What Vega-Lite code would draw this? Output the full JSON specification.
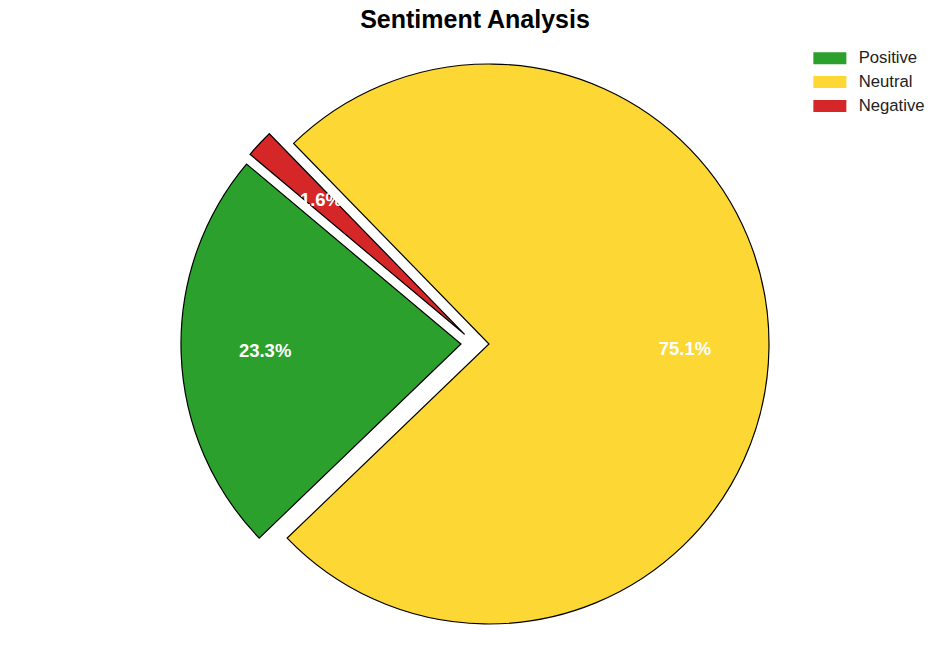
{
  "$schema": "https://vega.github.io/schema/vega-lite/v6.json",
  "width": 922,
  "height": 616,
  "autosize": {"type": "none"},
  "padding": {"left": 28, "top": 36, "right": 0, "bottom": 0},
  "background": "white",
  "title": {
    "text": "Sentiment Analysis",
    "fontSize": 25,
    "font": "Liberation Sans",
    "fontWeight": "bold",
    "color": "black",
    "anchor": "middle",
    "dx": -14,
    "offset": 3
  },
  "config": {
    "view": {"stroke": null},
    "legend": {
      "orient": "none",
      "legendX": 793.5,
      "legendY": 13.8,
      "symbolType": "M-2.75,-1H2.75V1H-2.75Z",
      "symbolSize": 144,
      "symbolStrokeWidth": 0,
      "symbolOpacity": 1,
      "labelFont": "Liberation Sans",
      "labelFontSize": 16.7,
      "labelColor": "#222",
      "labelOffset": 20.5,
      "rowPadding": 5.9
    }
  },
  "data": {
    "values": [
      {"category": "Positive", "value": 23.3},
      {"category": "Neutral", "value": 75.1},
      {"category": "Negative", "value": 1.6}
    ]
  },
  "transform": [
    {"stack": "value", "groupby": [], "as": ["v0", "v1"], "sort": [{"field": "category", "order": "descending"}]},
    {"calculate": "(datum.v0 + datum.v1) / 2", "as": "vmid"},
    {"calculate": "format(datum.value, '.1f') + '%'", "as": "label"}
  ],
  "layer": [
    {
      "transform": [{"filter": "datum.category === 'Positive'"}],
      "mark": {"type": "arc", "outerRadius": 280, "stroke": "black", "strokeWidth": 1.2, "xOffset": -28, "yOffset": 0},
      "encoding": {
        "theta": {"field": "v0", "type": "quantitative", "scale": {"domain": [0, 100], "range": [5.4105, -0.8727]}},
        "theta2": {"field": "v1"},
        "color": {"field": "category", "type": "nominal", "title": null,
          "scale": {"domain": ["Positive", "Neutral", "Negative"], "range": ["#2ca02c", "#fdd835", "#d62728"]}}
      }
    },
    {
      "transform": [{"filter": "datum.category === 'Neutral'"}],
      "mark": {"type": "arc", "outerRadius": 280, "stroke": "black", "strokeWidth": 1.2},
      "encoding": {
        "theta": {"field": "v0", "type": "quantitative"},
        "theta2": {"field": "v1"},
        "color": {"field": "category", "type": "nominal", "title": null,
          "scale": {"domain": ["Positive", "Neutral", "Negative"], "range": ["#2ca02c", "#fdd835", "#d62728"]}}
      }
    },
    {
      "transform": [{"filter": "datum.category === 'Negative'"}],
      "mark": {"type": "arc", "outerRadius": 280, "stroke": "black", "strokeWidth": 1.2, "xOffset": -24.4, "yOffset": -9.7},
      "encoding": {
        "theta": {"field": "v0", "type": "quantitative"},
        "theta2": {"field": "v1"},
        "color": {"field": "category", "type": "nominal", "title": null,
          "scale": {"domain": ["Positive", "Neutral", "Negative"], "range": ["#2ca02c", "#fdd835", "#d62728"]}}
      }
    },
    {
      "transform": [{"filter": "datum.category === 'Positive'"}],
      "mark": {"type": "text", "radius": 196, "xOffset": -28, "yOffset": 0, "fill": "white", "fontWeight": "bold", "fontSize": 18.5, "font": "Liberation Sans", "align": "center", "baseline": "middle"},
      "encoding": {
        "theta": {"field": "vmid", "type": "quantitative"},
        "text": {"field": "label"}
      }
    },
    {
      "transform": [{"filter": "datum.category === 'Neutral'"}],
      "mark": {"type": "text", "radius": 196, "yOffset": 2, "fill": "white", "fontWeight": "bold", "fontSize": 18.5, "font": "Liberation Sans", "align": "center", "baseline": "middle"},
      "encoding": {
        "theta": {"field": "vmid", "type": "quantitative"},
        "text": {"field": "label"}
      }
    },
    {
      "transform": [{"filter": "datum.category === 'Negative'"}],
      "mark": {"type": "text", "radius": 196, "xOffset": -24.4, "yOffset": -10.7, "fill": "white", "fontWeight": "bold", "fontSize": 18.5, "font": "Liberation Sans", "align": "center", "baseline": "middle"},
      "encoding": {
        "theta": {"field": "vmid", "type": "quantitative"},
        "text": {"field": "label"}
      }
    }
  ],
  "resolve": {"scale": {"theta": "shared", "color": "shared"}}
}
